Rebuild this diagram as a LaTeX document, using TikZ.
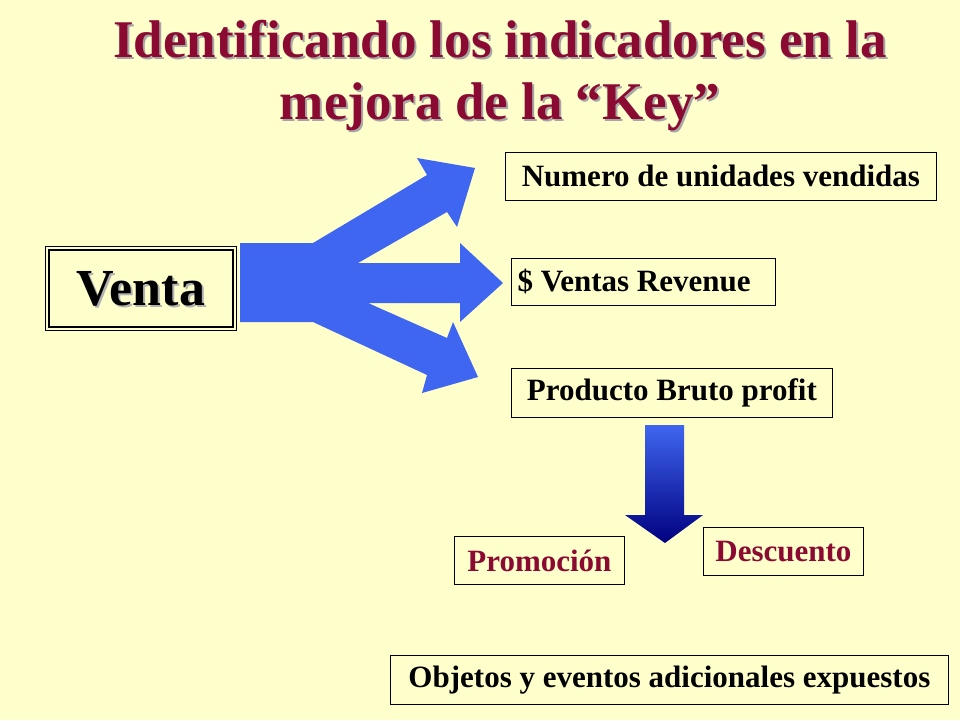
\documentclass[tikz,border=0pt]{standalone}
\usepackage{fontspec}
\setmainfont{Liberation Serif}
\definecolor{bg}{HTML}{FFFFCC}
\definecolor{ttl}{HTML}{8B0A32}
\definecolor{arr}{HTML}{3F66F0}
\begin{document}
\begin{tikzpicture}[x=1pt,y=-1pt,
  lbl/.style={draw=black,line width=0.8pt,fill=bg,inner sep=0pt,anchor=north west},
  txt/.style={font=\bfseries\fontsize{31}{36}\selectfont},
  red/.style={text=ttl}]
\fill[bg] (0,0) rectangle (960,720);
\useasboundingbox (0,0) rectangle (960,720);
% title
\foreach \dx/\c in {2/gray!70,0/ttl}{
\node[text=\c,font=\bfseries\fontsize{53}{62}\selectfont,align=center] (t\dx) at (500+\dx,76+\dx) {Identificando los indicadores en la\\mejora de la “Key”};}
% three-branch arrow
\fill[arr] (240,243) -- (313,243) -- (427,175) -- (417,158) -- (475,168) -- (457,227) -- (447,212) -- (358,263)
 -- (460,263) -- (460,243) -- (503,283) -- (460,322) -- (460,303) -- (368,303)
 -- (447,338) -- (453,322) -- (478,377) -- (422,393) -- (427,375) -- (313,322) -- (240,322) -- cycle;
% Venta
\node[draw=black,line width=1pt,minimum width=191pt,minimum height=84pt,anchor=north west,fill=bg] (venta) at (45,246) {};
\draw[line width=2.5pt] ([shift={(4,4)}]venta.north west) rectangle ([shift={(-4,-4)}]venta.south east);
\node[font=\bfseries\fontsize{52}{60}\selectfont,text=gray!60] at ([shift={(2,2)}]venta.center) {Venta};
\node[font=\bfseries\fontsize{52}{60}\selectfont] (vt) at (venta.center) {Venta};
% boxes
\node[lbl,minimum width=431pt,minimum height=48pt] (n1) at (505,152) {};
\node[txt] at (n1.center) {Numero de unidades vendidas};
\node[lbl,minimum width=264pt,minimum height=47pt] (n2) at (511,258) {};
\node[txt,anchor=west] at ([xshift=3pt]n2.west) {\$ Ventas Revenue};
\node[lbl,minimum width=321pt,minimum height=49pt] (n3) at (511,368) {};
\node[txt] at (n3.center) {Producto Bruto profit};
\node[lbl,minimum width=170pt,minimum height=48pt] (n4) at (454,536) {};
\node[txt,red] at (n4.center) {Promoción};
\node[lbl,minimum width=160pt,minimum height=48pt] (n5) at (703,527) {};
\node[txt,red] at (n5.center) {Descuento};
\node[lbl,minimum width=558pt,minimum height=49pt] (n6) at (390,655) {};
\node[txt] at (n6.center) {Objetos y eventos adicionales expuestos};
% down arrow
\shade[top color=arr,bottom color=blue!50!black] (645,425) -- (684,425) -- (684,515) -- (703,515) -- (665,543) -- (625,515) -- (645,515) -- cycle;
\end{tikzpicture}
\end{document}
